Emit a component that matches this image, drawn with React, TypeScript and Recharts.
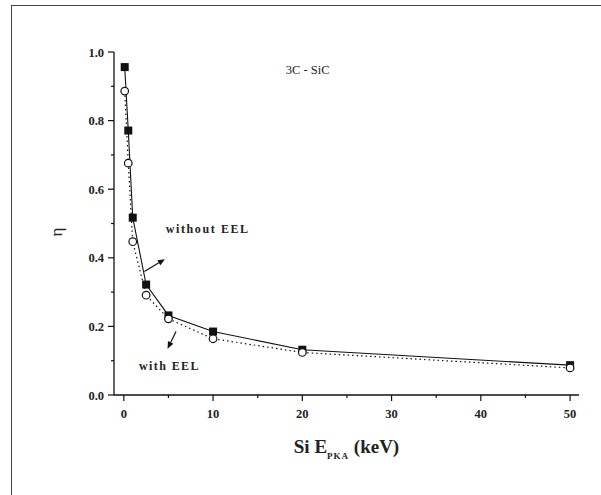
import { LineChart, Line, XAxis, YAxis, ReferenceDot, ReferenceLine } from 'recharts';

// Si PKA energy (keV)
const energies = [0.1, 0.5, 1, 2.5, 5, 10, 20, 50];
// damage efficiency eta
const withoutEEL = [0.956, 0.771, 0.517, 0.322, 0.232, 0.185, 0.132, 0.087];
const withEEL = [0.886, 0.676, 0.447, 0.291, 0.222, 0.164, 0.124, 0.079];

const xTicks = [0, 5, 10, 15, 20, 25, 30, 35, 40, 45, 50];
const xMajor = [0, 10, 20, 30, 40, 50];
const yTicks = [0, 0.1, 0.2, 0.3, 0.4, 0.5, 0.6, 0.7, 0.8, 0.9, 1.0];
const yMajor = ['0.0', '0.2', '0.4', '0.6', '0.8', '1.0'];

const FONT = '"Liberation Serif", "Times New Roman", serif';
const INK = '#111';

const data = energies.map((e, i) => ({ e, a: withoutEEL[i], b: withEEL[i] }));

function XTick({ x, y, payload }: any) {
  const major = xMajor.includes(payload.value);
  return (
    <g>
      <line x1={x} x2={x} y1={y} y2={y + (major ? 6 : 3)} stroke={INK} strokeWidth={1.2} />
      {major && (
        <text x={x} y={y + 23} textAnchor="middle" fontFamily={FONT} fontWeight="bold" fontSize={12.5} fill="#222">
          {payload.value}
        </text>
      )}
    </g>
  );
}

function YTick({ x, y, payload }: any) {
  const label = payload.value.toFixed(1);
  const major = yMajor.includes(label);
  return (
    <g>
      <line x1={x} x2={x - (major ? 6 : 3)} y1={y} y2={y} stroke={INK} strokeWidth={1.2} />
      {major && (
        <text x={x - 10} y={y + 4.5} textAnchor="end" fontFamily={FONT} fontWeight="bold" fontSize={12.5} fill="#222">
          {label}
        </text>
      )}
    </g>
  );
}

function Square({ cx, cy, index }: any) {
  return <rect key={'s' + index} x={cx - 4} y={cy - 4} width={8} height={8} fill={INK} />;
}

function Ring({ cx, cy, index }: any) {
  return <circle key={'c' + index} cx={cx} cy={cy} r={3.8} fill="#fff" stroke={INK} strokeWidth={1.2} />;
}

function Arrow({ x1, y1, x2, y2 }: any) {
  const a = Math.atan2(y2 - y1, x2 - x1);
  const L = 7;
  const W = 3;
  const bx = x2 - L * Math.cos(a);
  const by = y2 - L * Math.sin(a);
  const px = -Math.sin(a) * W;
  const py = Math.cos(a) * W;
  return (
    <g>
      <line x1={x1} y1={y1} x2={bx} y2={by} stroke={INK} strokeWidth={1.2} />
      <polygon points={`${x2},${y2} ${bx + px},${by + py} ${bx - px},${by - py}`} fill={INK} />
    </g>
  );
}

function note(text: string, size: number, bold: boolean, anchor: string, spacing = 0) {
  return ({ cx, cy }: any) => (
    <text
      x={cx}
      y={cy}
      textAnchor={anchor}
      fontFamily={FONT}
      fontWeight={bold ? 'bold' : 'normal'}
      fontSize={size}
      letterSpacing={spacing}
      fill="#222"
    >
      {text}
    </text>
  );
}

function XTitle({ viewBox }: any) {
  const cx = viewBox.x + viewBox.width / 2;
  return (
    <text x={cx} y={453} textAnchor="middle" fontFamily={FONT} fontWeight="bold" fontSize={19} fill="#222">
      Si E
      <tspan fontSize={9} dy={6} letterSpacing={1}>PKA</tspan>
      <tspan dy={-6}> (keV)</tspan>
    </text>
  );
}

function YTitle() {
  return (
    <text x={62} y={232} transform="rotate(-90 62 232)" textAnchor="middle" fontFamily={FONT} fontSize={17} fill="#222">
      η
    </text>
  );
}

export default function App() {
  return (
    <div style={{ position: 'absolute', left: 0, top: 0, width: 601, height: 495, overflow: 'hidden', background: '#fff' }}>
      <div
        style={{
          position: 'absolute',
          left: 11,
          top: 5,
          width: 900,
          height: 900,
          borderLeft: '1.5px solid #444',
          borderTop: '1.5px solid #444',
        }}
      />
      <LineChart width={601} height={495} data={data} margin={{ top: 52, right: 22, left: 54, bottom: 70 }}>
        <XAxis
          dataKey="e"
          type="number"
          domain={[-1.1, 51]}
          ticks={xTicks}
          interval={0}
          allowDataOverflow
          height={30}
          tickSize={0}
          tickMargin={0}
          tickLine={false}
          tick={<XTick />}
          axisLine={{ stroke: INK, strokeWidth: 1.3 }}
          label={{ content: <XTitle /> }}
        />
        <XAxis
          xAxisId="top"
          orientation="top"
          type="number"
          domain={[-1.1, 51]}
          height={0}
          tick={false}
          tickLine={false}
          axisLine={{ stroke: INK, strokeWidth: 1.3 }}
        />
        <YAxis
          type="number"
          domain={[0, 1]}
          ticks={yTicks}
          interval={0}
          width={60}
          tickSize={0}
          tickMargin={0}
          tickLine={false}
          tick={<YTick />}
          axisLine={{ stroke: INK, strokeWidth: 1.3 }}
          label={{ content: <YTitle /> }}
        />
        <YAxis
          yAxisId="right"
          orientation="right"
          type="number"
          domain={[0, 1]}
          width={0}
          tick={false}
          tickLine={false}
          axisLine={{ stroke: INK, strokeWidth: 1.3 }}
        />
        <Line
          dataKey="a"
          stroke={INK}
          strokeWidth={1.1}
          dot={<Square />}
          activeDot={false}
          isAnimationActive={false}
        />
        <Line
          dataKey="b"
          stroke={INK}
          strokeWidth={1.2}
          strokeDasharray="1.5 3"
          dot={<Ring />}
          activeDot={false}
          isAnimationActive={false}
        />
        <ReferenceLine segment={[{ x: 2.3, y: 0.36 }, { x: 4.6, y: 0.396 }]} shape={Arrow} ifOverflow="visible" />
        <ReferenceLine segment={[{ x: 5.85, y: 0.185 }, { x: 4.9, y: 0.135 }]} shape={Arrow} ifOverflow="visible" />
        <ReferenceDot x={20.6} y={0.935} r={0} shape={note('3C - SiC', 12.5, false, 'middle')} ifOverflow="visible" />
        <ReferenceDot x={4.7} y={0.472} r={0} shape={note('without EEL', 12, true, 'start', 1.6)} ifOverflow="visible" />
        <ReferenceDot x={1.7} y={0.072} r={0} shape={note('with EEL', 12, true, 'start', 1.4)} ifOverflow="visible" />
      </LineChart>
    </div>
  );
}
